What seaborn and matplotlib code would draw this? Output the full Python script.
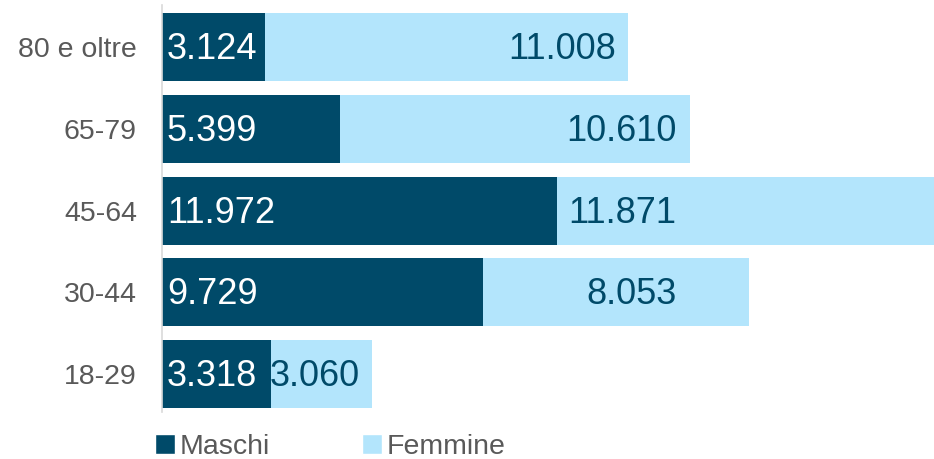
import pandas as pd
import matplotlib.pyplot as plt
import seaborn as sns
from matplotlib.patches import Patch

# Data
age_groups = ["80 e oltre", "65-79", "45-64", "30-44", "18-29"]
maschi = [3124, 5399, 11972, 9729, 3318]
femmine = [11008, 10610, 11871, 8053, 3060]

dark = "#004A69"
light = "#B3E5FC"
gray = "#595959"

df = pd.DataFrame({"eta": age_groups, "Maschi": maschi, "Femmine": femmine})
df["Totale"] = df["Maschi"] + df["Femmine"]

sns.set_style("white")
plt.rcParams["font.family"] = ["Liberation Sans", "DejaVu Sans"]

fig = plt.figure(figsize=(9.34, 4.59), dpi=100)
ax = fig.add_axes([0.1734, 0.1024, 0.8266, 0.8867])

# stacked: total bar (light) underneath, male bar (dark) on top
sns.barplot(data=df, y="eta", x="Totale", color=light, width=0.83,
            linewidth=0, saturation=1, ax=ax, orient="h")
sns.barplot(data=df, y="eta", x="Maschi", color=dark, width=0.83,
            linewidth=0, saturation=1, ax=ax, orient="h")

ax.set_xlim(0, 23400)
ax.set_ylim(4.46, -0.51)
ax.set_xlabel("")
ax.set_ylabel("")
ax.set_xticks([])
ax.tick_params(axis="y", length=0, pad=18, labelsize=20.5, labelcolor=gray)

for s in ["top", "right", "bottom"]:
    ax.spines[s].set_visible(False)
ax.spines["left"].set_color("#D9D9D9")
ax.spines["left"].set_linewidth(1.2)

def fmt(v):
    return f"{v:,}".replace(",", ".")

# value labels
for i, row in df.iterrows():
    ax.text(150, i + 0.03, fmt(row["Maschi"]), color="white", fontsize=26,
            ha="left", va="center")
    xr = min(row["Totale"] - 380, 15600)
    ax.text(xr, i + 0.03, fmt(row["Femmine"]), color=dark, fontsize=26,
            ha="right", va="center")

handles = [Patch(facecolor=dark, label="Maschi"),
           Patch(facecolor=light, label="Femmine")]
leg = fig.legend(handles=handles, loc="lower left",
                 bbox_to_anchor=(0.139, -0.058), ncol=2, frameon=False,
                 fontsize=20.5, handlelength=0.7, handleheight=0.7,
                 handletextpad=0.15, columnspacing=3.25)
for t in leg.get_texts():
    t.set_color(gray)

plt.savefig("out.png", dpi=100)
plt.close()
